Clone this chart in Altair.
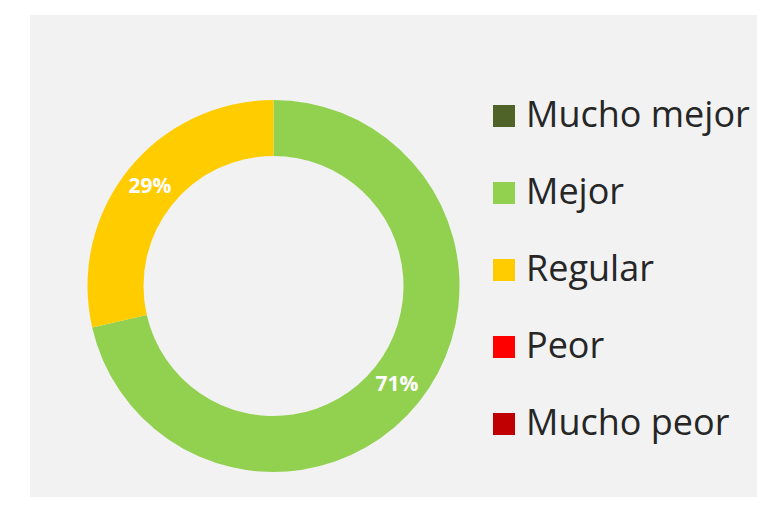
import altair as alt
import pandas as pd

categories = ["Mucho mejor", "Mejor", "Regular", "Peor", "Mucho peor"]
values = [0, 5, 2, 0, 0]
colors = ["#4f6228", "#92d050", "#ffcc00", "#ff0000", "#c00000"]

df = pd.DataFrame({"cat": categories, "value": values, "idx": list(range(len(categories)))})

bg = alt.Chart(pd.DataFrame({"a": [0]})).mark_rect(color="#f2f2f2").encode(
    x=alt.value(22), x2=alt.value(749), y=alt.value(7), y2=alt.value(489)
)

base = alt.Chart(df).encode(
    theta=alt.Theta("value:Q", stack=True),
    order=alt.Order("idx:Q"),
)

arc = base.mark_arc(outerRadius=186, innerRadius=130, strokeWidth=0).encode(
    x=alt.value(265.5),
    y=alt.value(278),
    color=alt.Color(
        "cat:N",
        scale=alt.Scale(domain=categories, range=colors),
        sort=categories,
        legend=alt.Legend(
            title=None,
            orient="none",
            legendX=478,
            legendY=90,
            padding=0,
            symbolType="square",
            symbolSize=484,
            symbolStrokeWidth=0,
            labelFont="Open Sans",
            labelFontSize=36,
            labelColor="#262626",
            labelOffset=4,
            rowPadding=41,
            labelLimit=400,
        ),
    ),
)

labels = base.transform_joinaggregate(total="sum(value)").transform_calculate(
    pct="datum.value / datum.total"
).transform_filter("datum.value > 0").mark_text(
    radius=158, font="Open Sans", fontWeight="bold", fontSize=21, color="white"
).encode(
    x=alt.value(265.5),
    y=alt.value(278),
    text=alt.Text("pct:Q", format=".0%"),
)

chart = alt.layer(bg, arc, labels).properties(
    width=749, height=489, padding=0, autosize=alt.AutoSizeParams(type="none"),
    background="white",
).configure_view(stroke=None)

chart.save("out.html", embed_options={"renderer": "svg", "actions": False})
